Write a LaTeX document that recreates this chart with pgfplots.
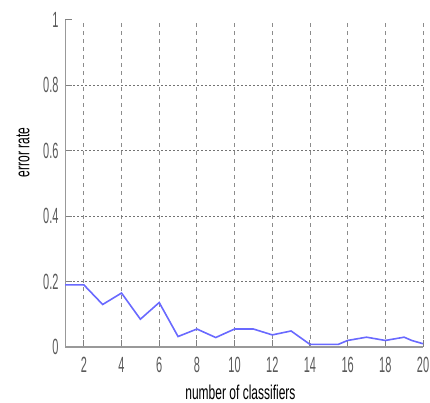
\documentclass[border=0pt]{standalone}
\usepackage{fontspec}
\setmainfont{Liberation Sans}[FakeStretch=0.6]
\newfontfamily\tickfont{Liberation Sans}[FakeStretch=0.5]
\usepackage{pgfplots}
\pgfplotsset{compat=1.18}
\definecolor{lineblue}{RGB}{105,105,255}
\begin{document}
\begin{tikzpicture}
\useasboundingbox (-65pt,-56pt) rectangle (365pt,347pt);
\begin{axis}[
  at={(0,0)}, anchor=south west,
  scale only axis, width=358pt, height=327pt,
  xmin=1, xmax=20, ymin=0, ymax=1,
  axis x line*=bottom, axis y line*=left,
  x axis line style={line width=2.5pt, draw=gray!80, -},
  y axis line style={line width=0.8pt, draw=gray!80, -},
  xtick={2,4,...,20}, ytick={0,0.2,0.4,0.6,0.8},
  yticklabels={0,0.2,0.4,0.6,0.8},
  extra y ticks={1}, extra y tick labels={1},
  extra y tick style={grid=none},
  xticklabels={2,4,6,8,10,12,14,16,18,20},
  tick align=inside, major tick length=7pt,
  tick style={gray, line width=1pt},
  grid=major,
  x grid style={gray!90, line width=0.8pt, dash pattern=on 4pt off 4pt},
  y grid style={gray!90!black, line width=1.2pt, dash pattern=on 2pt off 2pt},
  /pgf/number format/assume math mode=true,
  tick label style={font=\tickfont\fontsize{22}{22}\selectfont, text=gray!70!black},
  xticklabel style={anchor=center, yshift=-18pt},
  yticklabel style={anchor=east, xshift=-3pt},
  xlabel={number of classifiers}, ylabel={error rate},
  label style={font=\fontsize{20}{20}\selectfont},
  xlabel style={at={(axis description cs:0.49,-0.138)}, anchor=center},
  ylabel style={at={(axis description cs:-0.117,0.595)}, anchor=center},
]
\addplot[color=lineblue, line width=1.6pt] coordinates {
(1,0.19) (2,0.19) (3,0.13) (4,0.165) (5,0.085) (6,0.136) (7,0.032) (8,0.055)
(9,0.029) (10,0.055) (11,0.055) (12,0.037) (13,0.049) (14,0.008) (15,0.008)
(15.5,0.008) (16,0.02) (17,0.03) (18,0.02) (19,0.03) (19.4,0.02) (20,0.01)
};
\end{axis}
\end{tikzpicture}
\end{document}
